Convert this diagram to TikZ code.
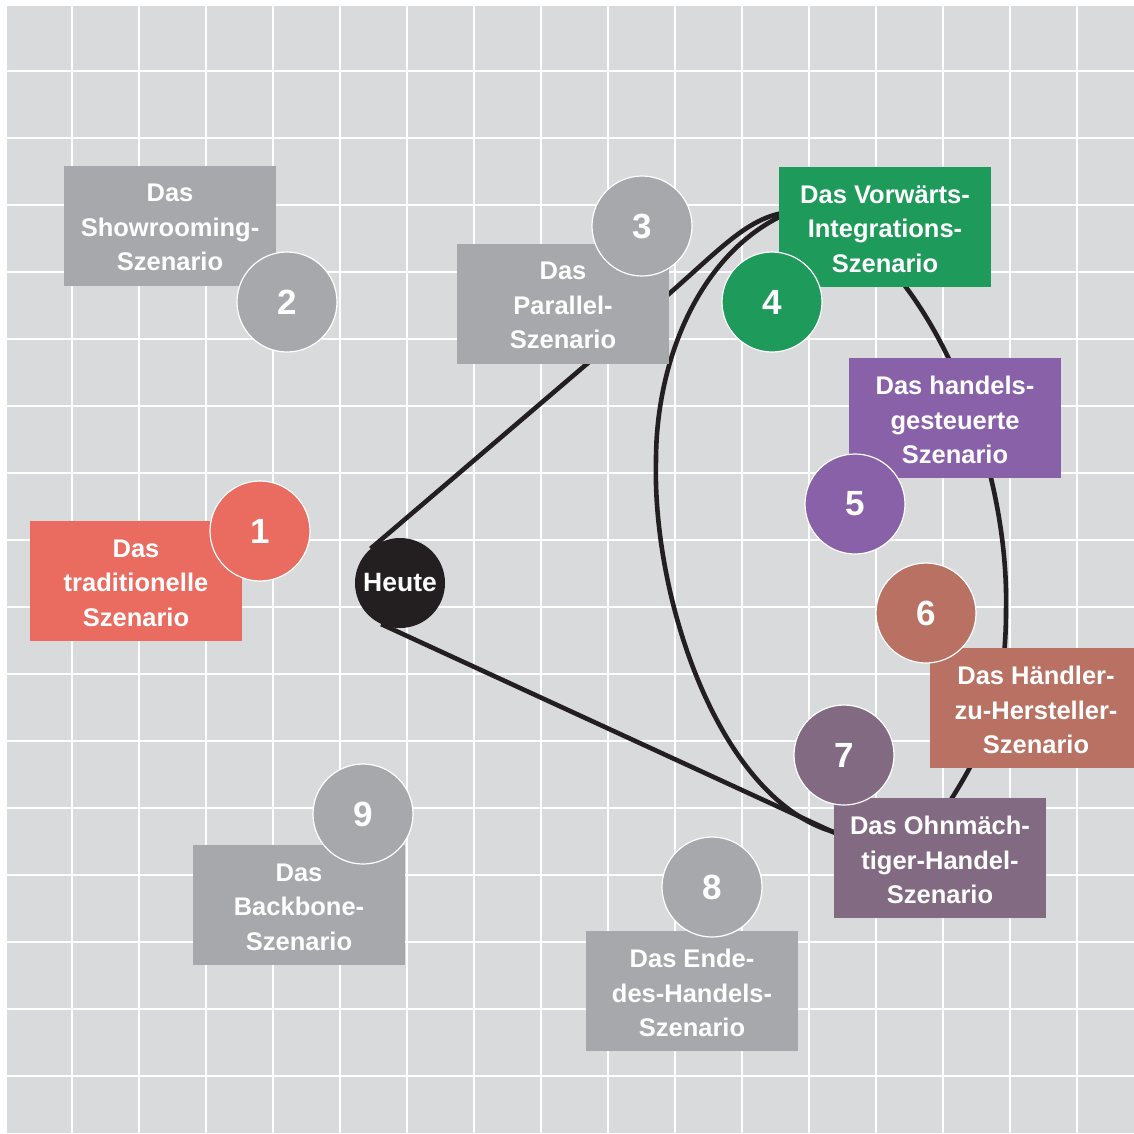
\documentclass[tikz,border=0pt]{standalone}
\usepackage{fontspec}
\setmainfont{Liberation Sans}
\usetikzlibrary{calc}
\pgfdeclarelayer{bg}
\pgfsetlayers{bg,main}

\definecolor{paper}{HTML}{D9DADC}
\definecolor{neutral}{HTML}{A7A8AB}
\definecolor{coral}{HTML}{EA6B5F}
\definecolor{forest}{HTML}{1E9A5A}
\definecolor{violet}{HTML}{8961A9}
\definecolor{clay}{HTML}{B87162}
\definecolor{mauve}{HTML}{836A83}
\definecolor{ink}{HTML}{231F20}

\newcommand\scnfont{\fontsize{25.5}{34.5}\selectfont\bfseries}
\newcommand\digfont{\fontsize{35}{35}\selectfont\bfseries}

\begin{document}
\begin{tikzpicture}[x=1pt,y=-1pt,
  scenbox/.style={rectangle, minimum width=212pt, minimum height=120pt,
    inner sep=0pt},
  scentext/.style={text=white, align=center, font=\scnfont, yshift=-2pt,
    inner sep=0pt},
  numdisc/.style={circle, minimum size=100pt, inner sep=0pt, draw=white,
    line width=1.2pt, text=white, font=\digfont},
  gridline/.style={white, line width=2.8pt},
  conn/.style={draw=ink, line width=4.6pt}]

\useasboundingbox (0,0) rectangle (1134,1133);

% squared paper
\begin{pgfonlayer}{bg}
  \fill[paper] (7,6) rectangle (1134,1133);
  \foreach \k in {0,...,15} {
    \draw[gridline] ({72+67*\k},6) -- ({72+67*\k},1133);
    \draw[gridline] (7,{71+67*\k}) -- (1134,{71+67*\k});
  }
\end{pgfonlayer}

% starting point
\node[circle, minimum size=90pt, inner sep=0pt, fill=ink, text=white,
      font=\fontsize{26.5}{30}\selectfont\bfseries] (heute) at (400,583) {Heute};

% scenario labels
\node[scenbox, fill=coral,   label={[scentext]center:Das\\traditionelle\\Szenario}] (b1) at (136,581) {};
\node[scenbox, fill=neutral, label={[scentext]center:Das\\Showrooming-\\Szenario}] (b2) at (170,225.5) {};
\node[scenbox, fill=neutral, label={[scentext]center:Das\\Parallel-\\Szenario}] (b3) at (563,303.5) {};
\node[scenbox, fill=forest,  label={[scentext]center:Das Vorwärts-\\Integrations-\\Szenario}] (b4) at (885,227) {};
\node[scenbox, fill=violet,  label={[scentext]center:Das handels-\\gesteuerte\\Szenario}] (b5) at (955,418) {};
\node[scenbox, fill=clay,    label={[scentext]center:Das Händler-\\zu-Hersteller-\\Szenario}] (b6) at (1036,708) {};
\node[scenbox, fill=mauve,   label={[scentext]center:Das Ohnmäch-\\tiger-Handel-\\Szenario}] (b7) at (940,858) {};
\node[scenbox, fill=neutral, label={[scentext]center:Das Ende-\\des-Handels-\\Szenario}] (b8) at (692,991) {};
\node[scenbox, fill=neutral, label={[scentext]center:Das\\Backbone-\\Szenario}] (b9) at (299,905) {};

% numbered discs
\node[numdisc, fill=coral]   (n1) at (260,531) {1};
\node[numdisc, fill=neutral] (n2) at (287,302) {2};
\node[numdisc, fill=neutral] (n3) at (642,226) {3};
\node[numdisc, fill=forest]  (n4) at (772,302) {4};
\node[numdisc, fill=violet]  (n5) at (855,504) {5};
\node[numdisc, fill=clay]    (n6) at (926,613) {6};
\node[numdisc, fill=mauve]   (n7) at (844,755) {7};
\node[numdisc, fill=neutral] (n8) at (712,887) {8};
\node[numdisc, fill=neutral] (n9) at (363,814) {9};

% cone of scenarios, drawn beneath the labels
\coordinate (upbend) at (650,310);
\coordinate (loopTop) at (790,212);
\coordinate (loopRight) at (1006,610);
\coordinate (loopLowR) at (952,798);
\coordinate (loopBot) at (834,832);
\coordinate (loopLeft) at (656,460);
\coordinate (lowEnd) at (870,849);

\begin{pgfonlayer}{bg}
  \draw[conn] (tangent cs:node=heute,point={(upbend)},solution=1) -- (upbend)
    .. controls (715,256) and (745,216) .. (loopTop);
  \draw[conn] (tangent cs:node=heute,point={(loopBot)},solution=2) -- (lowEnd);
  \draw[conn] (loopTop) .. controls (900,210) and (1010,430) .. (loopRight)
    .. controls (1006,700) and (985,745) .. (loopLowR)
    .. controls (925,840) and (880,845) .. (loopBot)
    .. controls (720,800) and (652,600) .. (loopLeft)
    .. controls (656,360) and (700,250) .. (loopTop);
\end{pgfonlayer}
\end{tikzpicture}
\end{document}
